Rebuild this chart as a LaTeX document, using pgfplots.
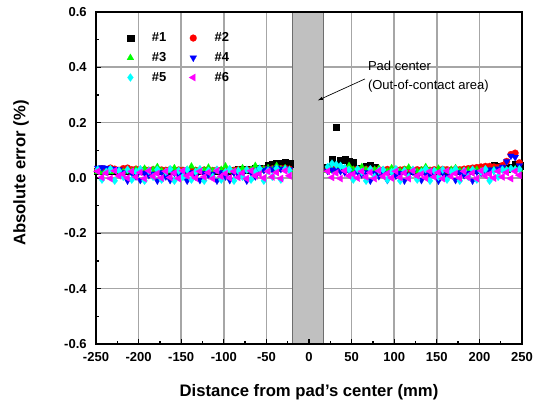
\documentclass[border=0pt]{standalone}
\usepackage{fontspec}
\setmainfont{Liberation Sans}
\usepackage{pgfplots}
\usepackage{pgfplotstable}
\pgfplotsset{compat=1.18}
\usetikzlibrary{arrows.meta}
\definecolor{bandgr}{RGB}{192,192,192}
\definecolor{bandedge}{RGB}{110,110,110}
\definecolor{pgreen}{RGB}{0,255,0}
\definecolor{pcyan}{RGB}{0,255,255}
\definecolor{pmag}{RGB}{255,0,255}

% x, #1 ... #6 (absolute error, %)
\pgfplotstableread{
x a b c d e f
-248 0.025 0.030 0.022 0.036 0.030 0.024
-243 0.026 0.034 0.020 0.038 -0.006 0.002
-238 0.024 0.030 0.024 0.036 0.022 0.018
-233 0.025 0.036 0.022 0.034 0.032 -0.002
-228 0.026 0.032 0.026 0.032 -0.010 0.026
-223 0.024 0.028 0.024 0.030 0.026 0.008
-218 0.025 0.034 0.022 0.020 0.004 0.014
-213 0.026 0.036 0.028 -0.010 0.030 0.000
-208 0.024 0.030 0.024 0.018 -0.006 0.024
-203 0.025 0.032 0.030 0.005 0.022 0.004
-198 0.026 0.028 0.026 -0.008 0.032 0.020
-193 0.024 0.030 0.034 0.018 -0.010 -0.002
-188 0.025 0.028 0.026 0.010 0.026 0.026
-183 0.026 0.030 0.030 0.015 0.004 0.006
-178 0.024 0.027 0.040 -0.010 0.030 0.016
-173 0.025 0.029 0.026 0.020 -0.006 0.000
-168 0.026 0.028 0.024 0.005 0.022 0.024
-163 0.024 0.030 0.028 -0.008 0.032 0.002
-158 0.025 0.027 0.036 0.018 -0.010 0.018
-153 0.026 0.029 0.026 0.010 0.026 -0.002
-148 0.024 0.028 0.024 0.015 0.004 0.026
-143 0.025 0.027 0.030 -0.010 0.030 0.008
-138 0.026 0.029 0.042 0.020 -0.006 0.014
-133 0.024 0.028 0.026 0.005 0.022 0.000
-128 0.025 0.027 0.024 -0.008 0.032 0.024
-123 0.026 0.029 0.028 0.018 -0.010 0.004
-118 0.024 0.028 0.038 0.010 0.026 0.020
-113 0.025 0.027 0.026 0.015 0.004 -0.002
-108 0.026 0.029 0.024 -0.010 0.030 0.026
-103 0.024 0.028 0.030 0.020 -0.006 0.006
-98 0.025 0.027 0.042 0.005 0.022 0.016
-93 0.026 0.029 0.026 -0.008 0.032 0.000
-88 0.028 0.028 0.024 0.018 -0.010 0.024
-83 0.030 0.030 0.028 0.010 0.026 0.002
-78 0.030 0.029 0.036 0.015 0.004 0.018
-73 0.031 0.030 0.026 -0.010 0.030 -0.002
-68 0.032 0.029 0.030 0.020 -0.006 0.026
-63 0.034 0.031 0.044 0.005 0.022 0.008
-58 0.035 0.030 0.028 0.030 0.034 0.014
-53 0.036 0.032 0.032 0.028 -0.010 0.000
-48 0.046 0.030 0.036 0.034 0.026 0.024
-43 0.050 0.033 0.030 0.030 0.004 0.004
-38 0.052 0.031 0.044 0.036 0.034 0.020
-33 0.054 0.034 0.032 0.032 -0.006 -0.002
-28 0.056 0.035 0.036 0.034 0.032 0.026
-23 0.052 0.032 0.030 0.030 0.028 0.008
22 0.040 0.030 0.026 0.025 0.040 0.024
27 0.066 0.034 0.030 0.030 0.052 0.002
32 0.184 0.032 0.028 0.028 0.048 0.018
37 0.064 0.030 0.040 0.024 0.044 -0.002
42 0.066 0.034 0.030 0.020 0.036 0.026
47 0.060 0.031 0.044 0.026 0.030 0.008
52 0.056 0.030 0.030 0.015 -0.006 0.014
57 0.036 0.032 0.026 0.022 0.032 0.000
62 0.034 0.029 0.040 0.012 0.022 0.024
67 0.044 0.031 0.030 0.020 -0.010 0.004
72 0.046 0.030 0.026 -0.010 0.032 0.020
77 0.038 0.028 0.030 0.018 0.004 -0.002
82 0.026 0.030 0.034 0.006 0.026 0.026
87 0.025 0.029 0.026 0.016 0.030 0.006
92 0.026 0.031 0.024 -0.008 -0.006 0.016
97 0.024 0.028 0.036 0.020 0.022 0.000
102 0.025 0.030 0.026 0.008 0.032 0.024
107 0.026 0.029 0.024 0.018 -0.010 0.002
112 0.024 0.031 0.030 -0.010 0.026 0.018
117 0.025 0.030 0.038 0.012 0.004 -0.002
122 0.026 0.028 0.026 0.022 0.030 0.026
127 0.024 0.030 0.024 0.006 -0.006 0.008
132 0.025 0.029 0.028 -0.008 0.022 0.014
137 0.026 0.031 0.040 0.016 0.032 0.000
142 0.024 0.028 0.026 0.010 -0.010 0.024
147 0.025 0.030 0.024 0.020 0.026 0.004
152 0.026 0.029 0.034 -0.010 0.004 0.020
157 0.024 0.031 0.026 0.018 0.030 -0.002
162 0.025 0.030 0.024 0.006 -0.006 0.026
167 0.026 0.029 0.030 0.016 0.022 0.006
172 0.024 0.031 0.036 -0.008 0.032 0.016
177 0.025 0.030 0.026 0.020 -0.010 0.000
182 0.026 0.032 0.024 0.010 0.026 0.024
187 0.027 0.034 0.028 0.018 0.004 0.002
192 0.028 0.036 0.026 -0.010 0.030 0.018
197 0.030 0.038 0.030 0.022 -0.006 -0.002
202 0.032 0.040 0.026 0.018 0.022 0.026
207 0.034 0.042 0.028 0.024 0.032 0.008
212 0.040 0.042 0.026 0.030 -0.010 0.014
217 0.046 0.040 0.030 0.026 0.026 0.000
222 0.044 0.038 0.028 0.034 0.004 0.024
227 0.036 0.045 0.030 0.040 0.030 0.004
232 0.034 0.060 0.028 0.060 0.028 0.020
237 0.040 0.085 0.030 0.080 0.034 -0.002
242 0.050 0.090 0.032 0.075 0.030 0.024
247 0.045 0.055 0.030 0.045 0.032 0.010
}\errdata

\begin{document}
\begin{tikzpicture}
\path (-72pt,-42.75pt) rectangle (336pt,258pt);
\begin{axis}[
  at={(0,0)}, anchor=south west,
  width=319.5pt, height=249pt, scale only axis,
  xmin=-250, xmax=250, ymin=-0.6, ymax=0.6,
  xtick={-250,-200,...,250},
  ytick={-0.6,-0.4,-0.2,0,0.2,0.4,0.6},
  minor x tick num=1, minor y tick num=1,
  xtick pos=bottom, ytick pos=left,
  major tick length=4pt, minor tick length=2.5pt,
  every tick/.append style={black, line width=1pt},
  axis line style={line width=1.3pt},
  axis on top,
  yticklabel style={/pgf/number format/fixed, /pgf/number format/fixed zerofill,
    /pgf/number format/precision=1, xshift=-3.5pt},
  /pgf/number format/assume math mode=true,
  tick label style={font=\fontsize{9.75}{11}\selectfont\bfseries},
  xticklabel style={yshift=-2.5pt},
  label style={font=\fontsize{12.5}{14}\selectfont\bfseries},
  xlabel={Distance from pad's center (mm)},
  ylabel={Absolute error (\%)},
  x label style={at={(axis description cs:0.5,-0.1465)}, anchor=center},
  y label style={at={(axis description cs:-0.176,0.515)}, anchor=center},
  legend columns=2,
  legend style={at={(axis description cs:0.072,0.945)}, anchor=north west,
    draw=none, fill=none, inner sep=0pt,
    font=\fontsize{9.75}{11}\selectfont\bfseries,
    nodes={inner xsep=0pt, inner ysep=1.5pt},
    row sep=3.5pt,
    /tikz/every odd column/.style={column sep=13.5pt},
    /tikz/every even column/.style={column sep=17pt}},
  legend image code/.code={\draw[#1] plot coordinates {(0pt,0pt)};},
]
% vertical grid lines
\addplot[black!35, line width=1.2pt, forget plot] coordinates {(-200,-0.6) (-200,0.6)};
\addplot[black!35, line width=1.2pt, forget plot] coordinates {(-150,-0.6) (-150,0.6)};
\addplot[black!35, line width=1.2pt, forget plot] coordinates {(-100,-0.6) (-100,0.6)};
\addplot[black!35, line width=1.2pt, forget plot] coordinates {(-50,-0.6) (-50,0.6)};
\addplot[black!35, line width=1.2pt, forget plot] coordinates {(50,-0.6) (50,0.6)};
\addplot[black!35, line width=1.2pt, forget plot] coordinates {(100,-0.6) (100,0.6)};
\addplot[black!35, line width=1.2pt, forget plot] coordinates {(150,-0.6) (150,0.6)};
\addplot[black!35, line width=1.2pt, forget plot] coordinates {(200,-0.6) (200,0.6)};
% horizontal grid lines, as thin strips
\addplot[fill=black!35, draw=none, forget plot]
  coordinates {(-250,-0.403) (250,-0.403) (250,-0.397) (-250,-0.397)} -- cycle;
\addplot[fill=black!35, draw=none, forget plot]
  coordinates {(-250,-0.203) (250,-0.203) (250,-0.197) (-250,-0.197)} -- cycle;
\addplot[fill=black!35, draw=none, forget plot]
  coordinates {(-250,-0.003) (250,-0.003) (250,0.003) (-250,0.003)} -- cycle;
\addplot[fill=black!35, draw=none, forget plot]
  coordinates {(-250,0.197) (250,0.197) (250,0.203) (-250,0.203)} -- cycle;
\addplot[fill=black!35, draw=none, forget plot]
  coordinates {(-250,0.397) (250,0.397) (250,0.403) (-250,0.403)} -- cycle;

\addplot[draw=bandedge, line width=0.5pt, fill=bandgr, forget plot]
  coordinates {(-19,-0.6) (17,-0.6) (17,0.6) (-19,0.6)} -- cycle;

\addplot[only marks, black, mark=square*, mark size=2.4pt,
  mark options={line width=0.1pt}] table[x=x,y=a] {\errdata};
\addplot[only marks, red, mark=*, mark size=2.6pt,
  mark options={line width=0.1pt}] table[x=x,y=b] {\errdata};
\addplot[only marks, pgreen, mark=triangle*, mark size=3pt,
  mark options={line width=0.1pt}] table[x=x,y=c] {\errdata};
\addplot[only marks, blue, mark=triangle*, mark size=3pt,
  mark options={rotate=180, line width=0.1pt}] table[x=x,y=d] {\errdata};
\addplot[only marks, pcyan, mark=diamond*, mark size=3pt,
  mark options={line width=0.1pt}] table[x=x,y=e] {\errdata};
\addplot[only marks, pmag, mark=triangle*, mark size=3.2pt,
  mark options={rotate=90, line width=0.1pt}] table[x=x,y=f] {\errdata};
\legend{\#1,\#2,\#3,\#4,\#5,\#6}

\draw[line width=0.5pt, -{Latex[length=4pt,width=2.5pt]}]
  (axis cs:65.7,0.358) -- (axis cs:10,0.28);
\node[anchor=west, align=left, inner sep=0pt,
  font=\fontsize{9.75}{14.5}\selectfont]
  at (axis cs:69,0.366) {Pad center\\(Out-of-contact area)};
\end{axis}
\end{tikzpicture}
\end{document}
